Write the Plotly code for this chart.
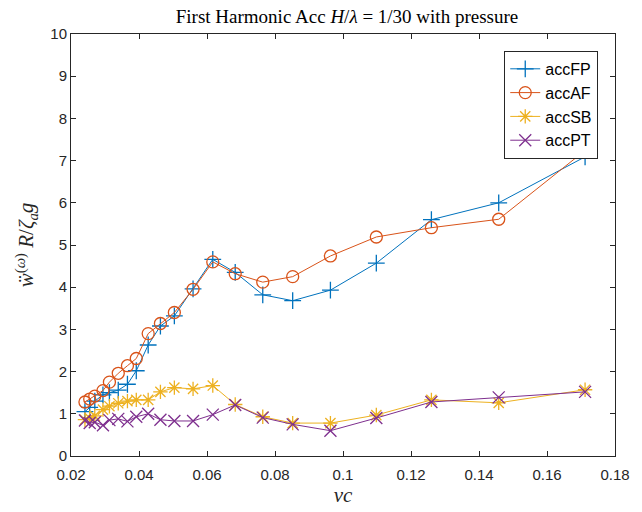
import plotly.graph_objects as go

# Non-dimensional frequency and first-harmonic accelerations for each sensor
nu_c = [0.0241, 0.0255, 0.0270, 0.0294, 0.0313, 0.0339, 0.0366, 0.0392, 0.0427,
        0.0463, 0.0504, 0.0559, 0.0617, 0.0683, 0.0764, 0.0852, 0.0963, 0.1098,
        0.1260, 0.1458, 0.1712]
acc_fp = [1.05, 1.15, 1.30, 1.45, 1.50, 1.56, 1.70, 2.02, 2.63, 3.08, 3.32, 3.96,
          4.66, 4.35, 3.82, 3.68, 3.93, 4.57, 5.60, 6.00, 7.09]
acc_af = [1.28, 1.35, 1.42, 1.55, 1.75, 1.96, 2.14, 2.31, 2.90, 3.14, 3.40, 3.95,
          4.60, 4.32, 4.12, 4.25, 4.74, 5.19, 5.41, 5.61, 7.24]
acc_sb = [0.86, 0.90, 0.95, 1.10, 1.18, 1.25, 1.30, 1.33, 1.33, 1.52, 1.62, 1.59,
          1.67, 1.22, 0.93, 0.78, 0.78, 0.97, 1.33, 1.26, 1.57]
acc_pt = [0.84, 0.78, 0.80, 0.73, 0.85, 0.88, 0.82, 0.93, 1.00, 0.86, 0.83, 0.83,
          0.98, 1.21, 0.91, 0.75, 0.60, 0.90, 1.28, 1.39, 1.52]

x_ticks = [0.02, 0.04, 0.06, 0.08, 0.10, 0.12, 0.14, 0.16, 0.18]
x_tick_text = ["0.02", "0.04", "0.06", "0.08", "0.1", "0.12", "0.14", "0.16", "0.18"]
y_ticks = list(range(0, 11))

series = [
    ("accFP", acc_fp, "#0072BD", "cross-thin-open"),
    ("accAF", acc_af, "#D95319", "circle-open"),
    ("accSB", acc_sb, "#EDB120", "asterisk-open"),
    ("accPT", acc_pt, "#7E2F8E", "x-thin-open"),
]

fig = go.Figure()
for name, vals, color, symbol in series:
    fig.add_trace(go.Scatter(
        x=nu_c, y=vals, name=name, mode="lines+markers",
        line=dict(color=color, width=1),
        marker=dict(symbol=symbol, size=12, color=color,
                    line=dict(color=color, width=1.3)),
    ))

axis_color = "#262626"
serif = "Liberation Serif, Times New Roman, serif"
sans = "Liberation Sans, Arial, sans-serif"
common_axis = dict(
    showline=True, linecolor=axis_color, linewidth=1, mirror="ticks",
    ticks="inside", ticklen=5, tickcolor=axis_color, tickwidth=1,
    showgrid=False, zeroline=False,
    tickfont=dict(family=sans, size=15, color=axis_color),
)

fig.update_layout(
    width=642, height=512,
    margin=dict(l=71, r=19, t=34, b=54),
    paper_bgcolor="white", plot_bgcolor="white",
    title=dict(
        text="First Harmonic Acc <i>H</i>/<i>λ</i> = 1/30 with pressure",
        x=(71 + 623) / 2 / 642, xanchor="center", y=1 - 16 / 512, yanchor="middle",
        font=dict(family=serif, size=19, color="black"),
    ),
    xaxis=dict(
        range=[0.02, 0.18], tickvals=x_ticks, ticktext=x_tick_text,
        ticklabelstandoff=5,
        title=dict(text="<i>νc</i>", standoff=2,
                   font=dict(family=serif, size=21, color=axis_color)),
        **common_axis,
    ),
    yaxis=dict(
        range=[0, 10], tickvals=y_ticks,
        title=dict(text="<i>ẅ</i><sup>(<i>ω</i>)</sup> <i>R</i>/<i>ζ</i><sub><i>a</i></sub><i>g</i>",
                   standoff=10,
                   font=dict(family=serif, size=21, color=axis_color)),
        **common_axis,
    ),
    legend=dict(
        x=(606 - 71) / 552, xanchor="right", y=(458.3 - 51) / 424.3, yanchor="top",
        bgcolor="white", bordercolor=axis_color, borderwidth=1,
        font=dict(family=sans, size=16, color="black"),
        tracegroupgap=0,
    ),
    showlegend=True,
)

fig.write_html("out.html")
